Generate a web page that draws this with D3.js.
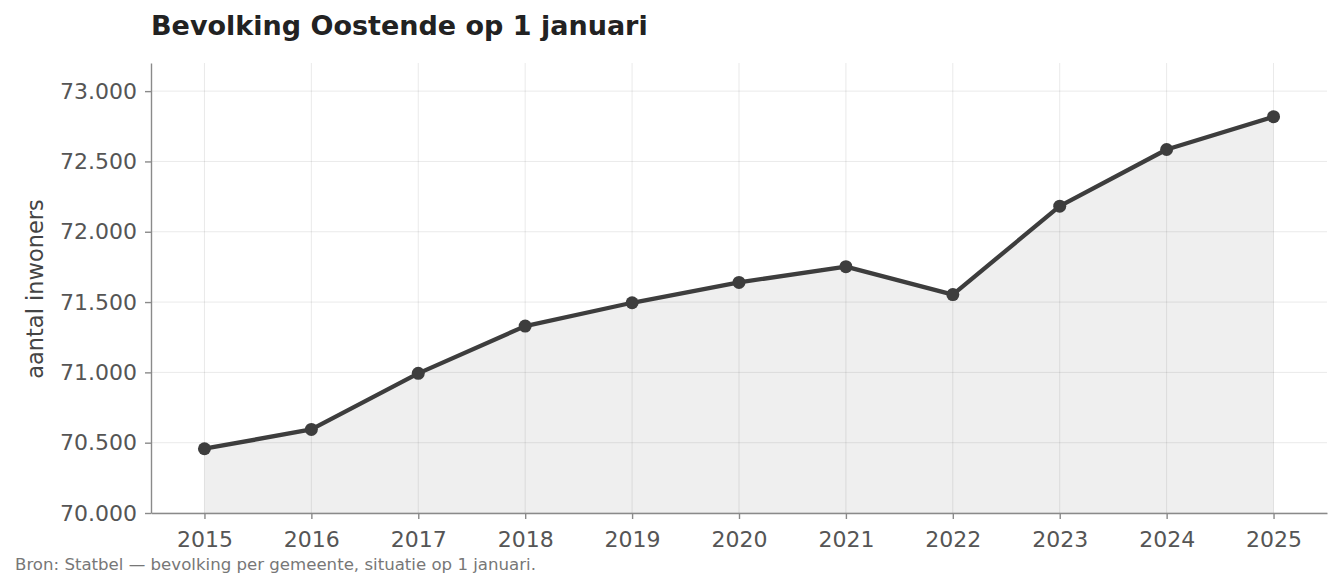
<!DOCTYPE html>
<html>
<head>
<meta charset="utf-8">
<script src="https://cdn.jsdelivr.net/npm/d3@7"></script>
<style>
  body { margin: 0; background: #fff; }
  svg { display: block; font-family: "DejaVu Sans", sans-serif; }
</style>
</head>
<body>
<svg id="chart" width="1341" height="588"></svg>
<script>
(function() {

    var years = [2015, 2016, 2017, 2018, 2019, 2020, 2021, 2022, 2023, 2024, 2025];
    var inwoners = [70457, 70594, 70993, 71329, 71495, 71640, 71752, 71553, 72182, 72585, 72818];
    var yTicks = [70000, 70500, 71000, 71500, 72000, 72500, 73000];

    var W = 1341, H = 588,
        m = { top: 63, right: 14, bottom: 75, left: 151 },
        iw = W - m.left - m.right,
        ih = H - m.top - m.bottom;

    var nl = d3.formatLocale({ decimal: ',', thousands: '.', grouping: [3], currency: ['€', ''] });
    var fmt = nl.format(',d');

    var data = years.map(function(y, i) { return { year: y, value: inwoners[i] }; });

    var x = d3.scaleLinear().domain([2014.5, 2025.5]).range([0, iw]);
    var y = d3.scaleLinear().domain([70000, 73200]).range([ih, 0]);

    var svg = d3.select('#chart');
    var g = svg.append('g').attr('transform', 'translate(' + m.left + ',' + m.top + ')');

    // area under the line
    g.append('path')
        .datum(data)
        .attr('fill', '#efefef')
        .attr('d', d3.area()
            .x(function(d) { return x(d.year); })
            .y0(y(70000))
            .y1(function(d) { return y(d.value); }));

    // grid on top, semi-transparent
    g.append('g')
        .selectAll('line.h')
        .data(yTicks)
        .enter().append('line')
        .attr('x1', 0).attr('x2', iw)
        .attr('y1', function(d) { return y(d); })
        .attr('y2', function(d) { return y(d); })
        .attr('stroke', 'rgba(0,0,0,0.085)')
        .attr('stroke-width', 1);

    g.append('g')
        .selectAll('line.v')
        .data(years)
        .enter().append('line')
        .attr('y1', 0).attr('y2', ih)
        .attr('x1', function(d) { return x(d); })
        .attr('x2', function(d) { return x(d); })
        .attr('stroke', 'rgba(0,0,0,0.085)')
        .attr('stroke-width', 1);

    // axes
    var yAxis = g.append('g')
        .call(d3.axisLeft(y).tickValues(yTicks).tickFormat(fmt)
            .tickSizeInner(6).tickSizeOuter(0).tickPadding(8));
    var xAxis = g.append('g')
        .attr('transform', 'translate(0,' + ih + ')')
        .call(d3.axisBottom(x).tickValues(years).tickFormat(d3.format('d'))
            .tickSizeInner(6).tickSizeOuter(0).tickPadding(8));

    [yAxis, xAxis].forEach(function(a) {
        a.select('.domain').attr('stroke', '#8a8a8a').attr('stroke-width', 1.4);
        a.selectAll('.tick line').attr('stroke', '#8a8a8a').attr('stroke-width', 1.4);
        a.selectAll('.tick text')
            .attr('fill', '#555')
            .style('font-size', '22px')
            .style('font-family', '"DejaVu Sans", sans-serif');
    });
    xAxis.selectAll('.tick text').attr('dy', '0.9em');

    // line
    g.append('path')
        .datum(data)
        .attr('fill', 'none')
        .attr('stroke', '#3d3d3d')
        .attr('stroke-width', 4.3)
        .attr('stroke-linejoin', 'round')
        .attr('d', d3.line()
            .x(function(d) { return x(d.year); })
            .y(function(d) { return y(d.value); }));

    g.selectAll('circle')
        .data(data)
        .enter().append('circle')
        .attr('cx', function(d) { return x(d.year); })
        .attr('cy', function(d) { return y(d.value); })
        .attr('r', 6.5)
        .attr('fill', '#3d3d3d');

    // texts
    svg.append('text')
        .attr('x', 151).attr('y', 35)
        .attr('fill', '#222')
        .style('font-size', '27px')
        .style('font-weight', 'bold')
        .text('Bevolking Oostende op 1 januari');

    svg.append('text')
        .attr('transform', 'translate(43,' + (m.top + ih / 2 + 1) + ') rotate(-90)')
        .attr('text-anchor', 'middle')
        .attr('fill', '#444')
        .style('font-size', '22.5px')
        .text('aantal inwoners');

    svg.append('text')
        .attr('x', 15).attr('y', 570)
        .attr('fill', '#777')
        .style('font-size', '16.6px')
        .text('Bron: Statbel — bevolking per gemeente, situatie op 1 januari.');

})();
</script>
</body>
</html>
